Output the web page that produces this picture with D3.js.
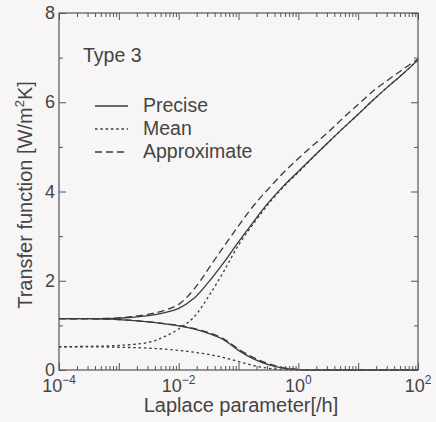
<!DOCTYPE html>
<html>
<head>
<meta charset="utf-8">
<script src="https://cdn.jsdelivr.net/npm/d3@7"></script>
<style>
    body { margin: 0; background: #f7f5f5; }
    svg { display: block; }
    text { font-family: "Liberation Sans", Arial, sans-serif; fill: #444; }
</style>
</head>
<body>
<svg id="chart" width="436" height="422"></svg>
<script>
// Laplace parameter [/h], quarter decades after 10^-2.5
var laplace_s = [1e-4, 3.16e-4, 1e-3, 3.16e-3, 5.62e-3, 1e-2, 1.78e-2, 3.16e-2, 5.62e-2, 0.1, 0.178,
    0.316, 0.562, 1, 1.78, 3.16, 5.62, 10, 17.8, 31.6, 56.2, 100];

// upper branch (rising)
var precise_up = [1.15, 1.15, 1.16, 1.22, 1.28, 1.38, 1.6, 1.97, 2.4, 2.87, 3.32, 3.75, 4.12, 4.45,
    4.78, 5.1, 5.42, 5.73, 6.05, 6.35, 6.64, 6.95];
var mean_up = [0.52, 0.53, 0.55, 0.62, 0.74, 0.92, 1.18, 1.65, 2.2, 2.8, 3.28, 3.72, 4.1, 4.43,
    4.77, 5.1, 5.42, 5.73, 6.05, 6.35, 6.64, 6.95];
var approx_up = [1.15, 1.15, 1.17, 1.25, 1.33, 1.47, 1.8, 2.27, 2.76, 3.23, 3.68, 4.06, 4.42, 4.74,
    5.04, 5.33, 5.65, 5.95, 6.25, 6.5, 6.74, 6.97];

// lower branch (decaying)
var precise_low = [1.15, 1.15, 1.13, 1.08, 1.04, 0.99, 0.92, 0.82, 0.68, 0.44, 0.25, 0.12, 0.04, 0.01,
    0, 0, 0, 0, 0, 0, 0, 0];
var mean_low = [0.52, 0.52, 0.51, 0.49, 0.47, 0.44, 0.4, 0.35, 0.28, 0.19, 0.1, 0.04, 0.01, 0,
    0, 0, 0, 0, 0, 0, 0, 0];
var approx_low = [1.15, 1.15, 1.13, 1.08, 1.04, 1.0, 0.93, 0.84, 0.7, 0.47, 0.28, 0.14, 0.05, 0.01,
    0, 0, 0, 0, 0, 0, 0, 0];

var x_ticks = [1e-4, 1e-3, 1e-2, 1e-1, 1, 10, 100];
var x_labels = {'0.0001': '-4', '0.01': '-2', '1': '0', '100': '2'};
var y_ticks = [0, 2, 4, 6, 8];
var y_minor = [1, 3, 5, 7];

var legend_items = [
    {name: 'Precise', dash: null},
    {name: 'Mean', dash: '2.5 2.8'},
    {name: 'Approximate', dash: '7 4'}
];
var series = [
    {values: precise_up, dash: null},
    {values: precise_low, dash: null},
    {values: mean_up, dash: '2.5 2.8'},
    {values: mean_low, dash: '2.5 2.8'},
    {values: approx_up, dash: '7 4'},
    {values: approx_low, dash: '7 4'}
];

var svg = d3.select('#chart');
var plot_l = 59, plot_r = 418, plot_t = 13, plot_b = 370;
var ink = '#555', line_ink = '#3a3a3a';

var x = d3.scaleLog().domain([1e-4, 1e2]).range([plot_l, plot_r]);
var y = d3.scaleLinear().domain([0, 8]).range([plot_b, plot_t]);

// minor ticks of the log axis: 2..9 in each decade
var x_minor = [];
x_ticks.slice(0, -1).forEach(function(d) {
    for (var k = 2; k < 10; k++) x_minor.push(d * k);
});

// curves
var line = d3.line()
    .x(function(d) { return x(d[0]); })
    .y(function(d) { return y(d[1]); })
    .curve(d3.curveCatmullRom.alpha(0.5));

svg.selectAll('.curve')
    .data(series)
    .enter()
    .append('path')
    .attr('class', 'curve')
    .attr('fill', 'none')
    .attr('stroke', line_ink)
    .attr('stroke-width', 1.3)
    .attr('stroke-dasharray', function(d) { return d.dash; })
    .attr('d', function(d) {
        return line(laplace_s.map(function(s, i) { return [s, d.values[i]]; }));
    });

// frame
svg.append('rect')
    .attr('x', plot_l).attr('y', plot_t)
    .attr('width', plot_r - plot_l).attr('height', plot_b - plot_t)
    .attr('fill', 'none')
    .attr('stroke', ink)
    .attr('stroke-width', 1.2);

// ticks pointing inward on all four sides (negative tickSize = inward)
var axes = [
    {axis: d3.axisBottom, scale: x, move: 'translate(0,' + plot_b + ')', major: x_ticks, minor: x_minor},
    {axis: d3.axisTop, scale: x, move: 'translate(0,' + plot_t + ')', major: x_ticks, minor: x_minor},
    {axis: d3.axisLeft, scale: y, move: 'translate(' + plot_l + ',0)', major: y_ticks, minor: y_minor},
    {axis: d3.axisRight, scale: y, move: 'translate(' + plot_r + ',0)', major: y_ticks, minor: y_minor}
];
axes.forEach(function(a) {
    [[a.major, 7], [a.minor, 4]].forEach(function(set) {
        var g = svg.append('g')
            .attr('transform', a.move)
            .call(a.axis(a.scale).tickValues(set[0]).tickSize(-set[1]).tickFormat(''));
        g.select('.domain').remove();
        g.selectAll('line').attr('stroke', ink).attr('stroke-width', 1);
    });
});

// x tick labels, 10 with superscript exponent
var xl = svg.selectAll('.xlabel')
    .data(x_ticks.filter(function(d) { return x_labels[String(d)] !== undefined; }))
    .enter()
    .append('text')
    .attr('class', 'xlabel')
    .attr('x', function(d) { return x(d); })
    .attr('y', 392)
    .attr('text-anchor', 'middle')
    .style('font-size', '18px');
xl.append('tspan').text('10');
xl.append('tspan')
    .attr('dy', -8)
    .style('font-size', '12px')
    .text(function(d) { return x_labels[String(d)].replace('-', '\u2212'); });

// y tick labels
svg.selectAll('.ylabel')
    .data(y_ticks)
    .enter()
    .append('text')
    .attr('class', 'ylabel')
    .attr('x', 55)
    .attr('y', function(d) { return y(d) + 6; })
    .attr('text-anchor', 'end')
    .style('font-size', '18px')
    .text(function(d) { return d; });

// axis titles
svg.append('text')
    .attr('x', 241)
    .attr('y', 412)
    .attr('text-anchor', 'middle')
    .style('font-size', '20px')
    .text('Laplace parameter[/h]');

var yt = svg.append('text')
    .attr('transform', 'translate(32,195) rotate(-90)')
    .attr('text-anchor', 'middle')
    .style('font-size', '20px');
yt.append('tspan').text('Transfer function [W/m');
yt.append('tspan').attr('dy', -8).style('font-size', '13px').text('2');
yt.append('tspan').attr('dy', 8).text('K]');

// panel label and legend
svg.append('text')
    .attr('x', 83)
    .attr('y', 62)
    .style('font-size', '19.5px')
    .text('Type 3');

var lg = svg.selectAll('.legend')
    .data(legend_items)
    .enter()
    .append('g')
    .attr('class', 'legend')
    .attr('transform', function(d, i) { return 'translate(0,' + (112 + 23 * i) + ')'; });
lg.append('line')
    .attr('x1', 95).attr('x2', 128)
    .attr('y1', -6).attr('y2', -6)
    .attr('stroke', line_ink)
    .attr('stroke-width', 1.3)
    .attr('stroke-dasharray', function(d) { return d.dash; });
lg.append('text')
    .attr('x', 143)
    .attr('y', 0)
    .style('font-size', '19.5px')
    .text(function(d) { return d.name; });
</script>
</body>
</html>
